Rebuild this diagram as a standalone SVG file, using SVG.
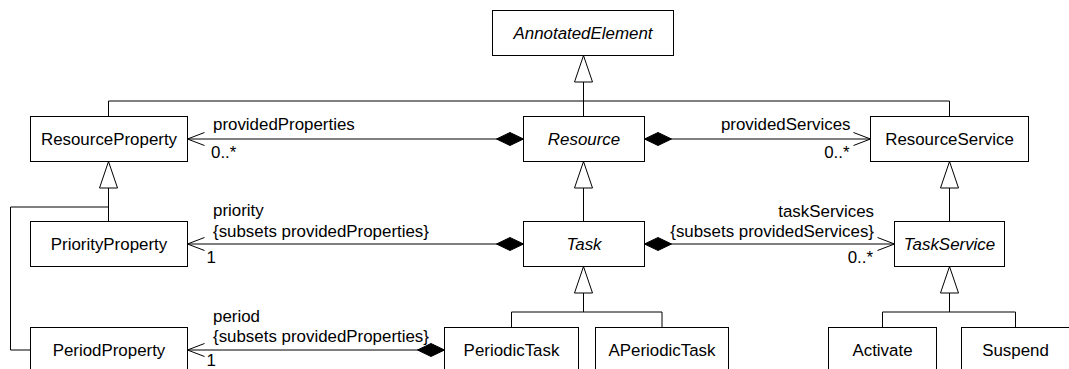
<svg xmlns="http://www.w3.org/2000/svg" width="1069" height="369" viewBox="0 0 1069 369">
<style>
.box{fill:#fff;stroke:#000;stroke-width:1}
.nm{font-family:"Liberation Sans",Arial,sans-serif;font-size:16.9px;text-anchor:middle;fill:#000}
.it{font-style:italic}
.t{font-family:"Liberation Sans",Arial,sans-serif;font-size:16.9px;fill:#000}
.e{text-anchor:end}
.ln{fill:none;stroke:#000;stroke-width:1}
.gen{marker-end:url(#tri)}
.assoc{marker-start:url(#dia);marker-end:url(#arr)}
</style>
<defs>
<marker id="tri" markerUnits="userSpaceOnUse" orient="auto" refX="0" refY="0" markerWidth="30" markerHeight="20" overflow="visible">
<path d="M0,0 L-26.5,-9 L-26.5,9 Z" fill="#fff" stroke="#000" stroke-width="1"/>
</marker>
<marker id="dia" markerUnits="userSpaceOnUse" orient="auto" refX="0" refY="0" markerWidth="30" markerHeight="20" overflow="visible">
<path d="M0,0 L13.5,-6.5 L27,0 L13.5,6.5 Z" fill="#000" stroke="#000" stroke-width="1"/>
</marker>
<marker id="arr" markerUnits="userSpaceOnUse" orient="auto" refX="0" refY="0" markerWidth="20" markerHeight="20" overflow="visible">
<path d="M-17,-6.5 L0,0 L-17,6.5" fill="none" stroke="#000" stroke-width="1"/>
</marker>
</defs>
<rect width="1069" height="369" fill="#fff"/>
<g id="connectors">
<path class="ln" d="M108.5,116.5 V101 H949.5 V116.5"/>
<path class="ln gen" d="M583.5,116.5 V55.5"/>
<path class="ln gen" d="M583.5,221.5 V161.5"/>
<path class="ln" d="M511.5,327.5 V312 H662 V327.5"/>
<path class="ln gen" d="M583.5,312 V266.5"/>
<path class="ln gen" d="M108.5,221.5 V161.5"/>
<path class="ln" d="M108.5,207 H10.5 V350 H30.5"/>
<path class="ln gen" d="M949.5,221.5 V161.5"/>
<path class="ln" d="M882.5,327.5 V312 H1015.5 V327.5"/>
<path class="ln gen" d="M949.5,312 V266.5"/>
<path class="ln assoc" d="M523.5,139 H187.5"/>
<path class="ln assoc" d="M644.5,139 H870.5"/>
<path class="ln assoc" d="M523.5,244 H187.5"/>
<path class="ln assoc" d="M644.5,244 H894.5"/>
<path class="ln assoc" d="M444.5,350 H187.5"/>
<text class="t" x="213" y="130">providedProperties</text>
<text class="t" x="211" y="158">0..*</text>
<text class="t e" x="850.5" y="129.5">providedServices</text>
<text class="t e" x="849.5" y="158">0..*</text>
<text class="t" x="213" y="216">priority</text>
<text class="t" x="213" y="236.5">{subsets providedProperties}</text>
<text class="t" x="206.5" y="262.5">1</text>
<text class="t e" x="874" y="216.5">taskServices</text>
<text class="t e" x="874" y="236.5">{subsets providedServices}</text>
<text class="t e" x="873" y="263">0..*</text>
<text class="t" x="213" y="321.5">period</text>
<text class="t" x="213" y="342">{subsets providedProperties}</text>
<text class="t" x="206.5" y="366">1</text>
</g>
<g id="AnnotatedElement"><rect class="box" x="492.5" y="10.5" width="181" height="45"/><text class="nm it" x="583" y="39">AnnotatedElement</text></g>
<g id="ResourceProperty"><rect class="box" x="30.5" y="116.5" width="157" height="45"/><text class="nm" x="109" y="145">ResourceProperty</text></g>
<g id="Resource"><rect class="box" x="523.5" y="116.5" width="121" height="45"/><text class="nm it" x="584" y="145">Resource</text></g>
<g id="ResourceService"><rect class="box" x="870.5" y="116.5" width="158" height="45"/><text class="nm" x="949.5" y="145">ResourceService</text></g>
<g id="PriorityProperty"><rect class="box" x="30.5" y="221.5" width="157" height="45"/><text class="nm" x="109" y="250">PriorityProperty</text></g>
<g id="Task"><rect class="box" x="523.5" y="221.5" width="121" height="45"/><text class="nm it" x="584" y="250">Task</text></g>
<g id="TaskService"><rect class="box" x="894.5" y="221.5" width="110" height="45"/><text class="nm it" x="949.5" y="250">TaskService</text></g>
<g id="PeriodProperty"><rect class="box" x="30.5" y="327.5" width="157" height="45"/><text class="nm" x="109" y="356">PeriodProperty</text></g>
<g id="PeriodicTask"><rect class="box" x="444.5" y="327.5" width="134" height="45"/><text class="nm" x="511.5" y="356">PeriodicTask</text></g>
<g id="APeriodicTask"><rect class="box" x="595.5" y="327.5" width="133" height="45"/><text class="nm" x="662" y="356">APeriodicTask</text></g>
<g id="Activate"><rect class="box" x="828.5" y="327.5" width="108" height="45"/><text class="nm" x="882.5" y="356">Activate</text></g>
<g id="Suspend"><rect class="box" x="961.5" y="327.5" width="108" height="45"/><text class="nm" x="1015.5" y="356">Suspend</text></g>
</svg>
